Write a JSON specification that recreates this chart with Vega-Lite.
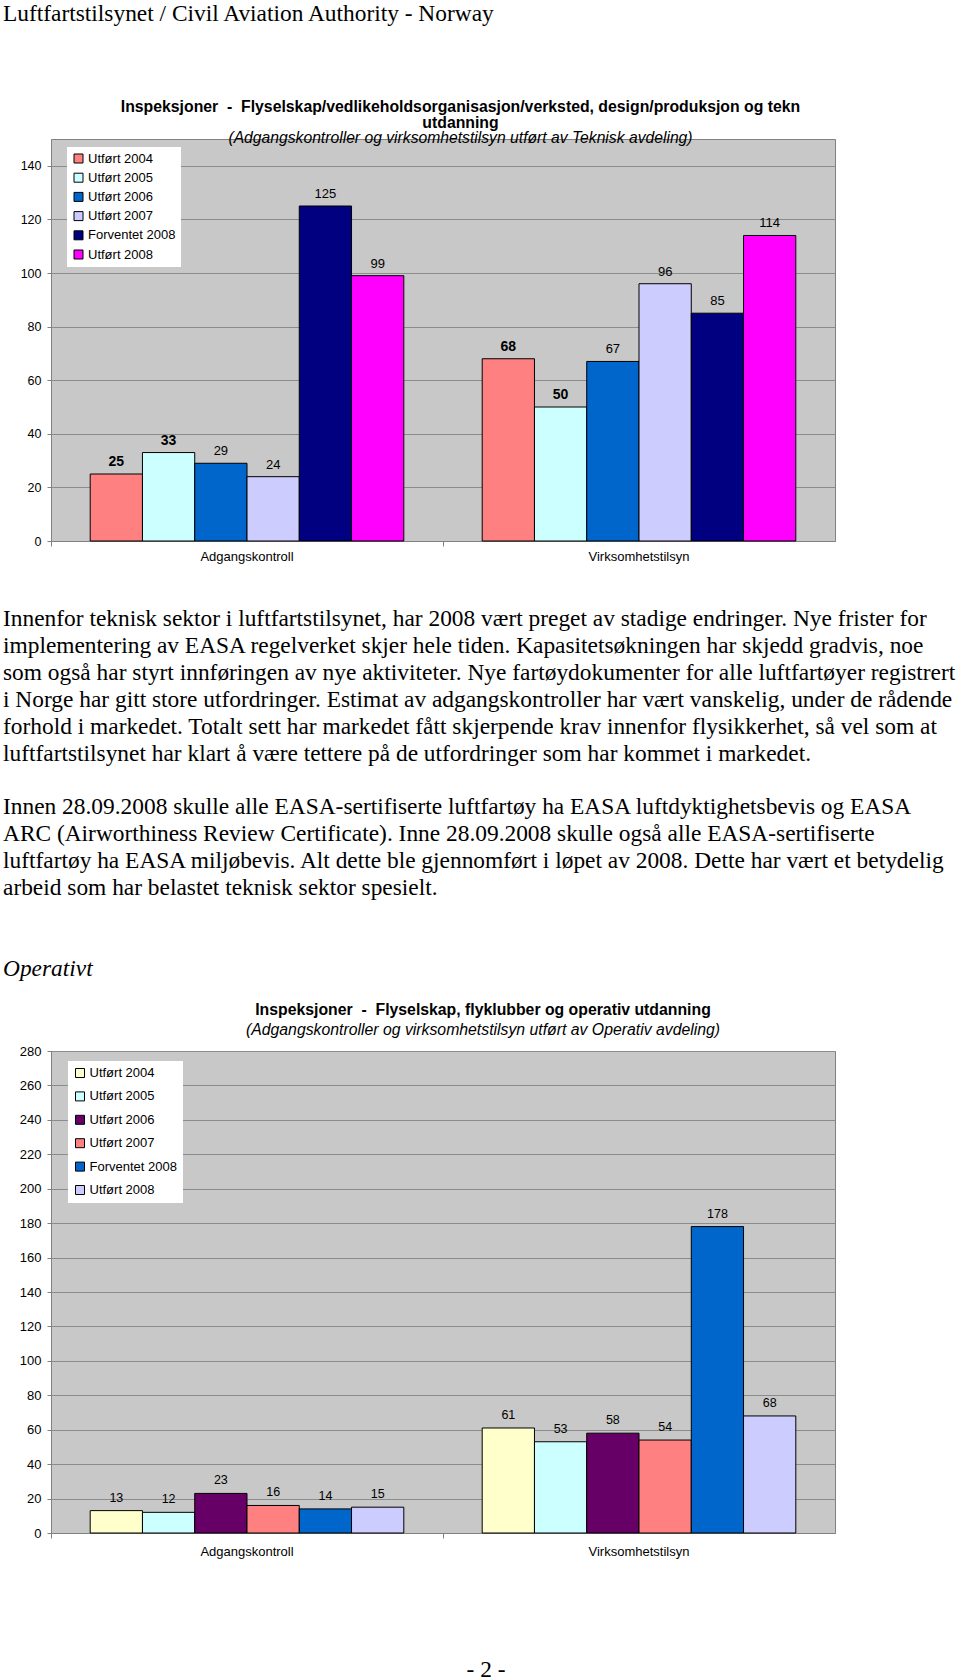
{
  "$schema": "https://vega.github.io/schema/vega-lite/v6.json",
  "background": "white",
  "padding": {"left": 3, "top": 1, "right": 0, "bottom": 0},
  "title": {
    "text": "Luftfartstilsynet / Civil Aviation Authority - Norway",
    "font": "Liberation Serif",
    "fontSize": 23.4,
    "fontWeight": "normal",
    "color": "black",
    "anchor": "start",
    "frame": "bounds",
    "offset": 72
  },
  "spacing": 0,
  "bounds": "flush",
  "resolve": {"scale": {"color": "independent"}, "legend": {"color": "independent"}},
  "config": {
    "view": {"stroke": null},
    "font": "Liberation Sans",
    "axis": {"labelColor": "black", "labelFont": "Liberation Sans"},
    "legend": {
      "orient": "none",
      "title": null,
      "fillColor": "white",
      "labelFont": "Liberation Sans",
      "labelFontSize": 13,
      "labelColor": "black",
      "symbolType": "square",
      "symbolSize": 81,
      "symbolStrokeColor": "black",
      "symbolStrokeWidth": 1,
      "symbolOpacity": 1,
      "labelOffset": 3
    }
  },
  "vconcat": [
    {
      "width": 784,
      "height": 402,
      "view": {"fill": "#c8c8c8", "stroke": "#808080"},
      "title": {
        "text": ["Inspeksjoner \u00a0-\u00a0 Flyselskap/vedlikeholdsorganisasjon/verksted, design/produksjon og tekn", "utdanning"],
        "subtitle": "(Adgangskontroller og virksomhetstilsyn utført av Teknisk avdeling)",
        "font": "Liberation Sans",
        "fontSize": 15.8,
        "fontWeight": "bold",
        "color": "black",
        "lineHeight": 16,
        "subtitleFont": "Liberation Sans",
        "subtitleFontSize": 15.7,
        "subtitleFontStyle": "italic",
        "subtitleColor": "black",
        "subtitlePadding": 0,
        "anchor": "middle",
        "frame": "group",
        "dx": 17.5,
        "offset": -8
      },
      "data": {
        "values": [
          {"category": "Adgangskontroll", "series": "Utført 2004", "value": 25},
          {"category": "Adgangskontroll", "series": "Utført 2005", "value": 33},
          {"category": "Adgangskontroll", "series": "Utført 2006", "value": 29},
          {"category": "Adgangskontroll", "series": "Utført 2007", "value": 24},
          {"category": "Adgangskontroll", "series": "Forventet 2008", "value": 125},
          {"category": "Adgangskontroll", "series": "Utført 2008", "value": 99},
          {"category": "Virksomhetstilsyn", "series": "Utført 2004", "value": 68},
          {"category": "Virksomhetstilsyn", "series": "Utført 2005", "value": 50},
          {"category": "Virksomhetstilsyn", "series": "Utført 2006", "value": 67},
          {"category": "Virksomhetstilsyn", "series": "Utført 2007", "value": 96},
          {"category": "Virksomhetstilsyn", "series": "Forventet 2008", "value": 85},
          {"category": "Virksomhetstilsyn", "series": "Utført 2008", "value": 114}
        ]
      },
      "encoding": {
        "x": {
          "field": "category", "type": "nominal",
          "scale": {"paddingInner": 0, "paddingOuter": 0},
          "axis": {"title": null, "labelAngle": 0, "labelFontSize": 13, "labelPadding": 4, "tickSize": 5, "bandPosition": 0, "domainColor": "#808080", "tickColor": "#808080", "grid": false}
        },
        "xOffset": {
          "field": "series", "type": "nominal",
          "scale": {"domain": ["Utført 2004", "Utført 2005", "Utført 2006", "Utført 2007", "Forventet 2008", "Utført 2008"], "paddingOuter": 0.75, "paddingInner": 0}
        },
        "y": {
          "field": "value", "type": "quantitative",
          "scale": {"domain": [0, 150], "nice": false},
          "axis": {"title": null, "values": [0, 20, 40, 60, 80, 100, 120, 140], "grid": true, "gridColor": "#8c8c8c", "labelFontSize": 12.5, "tickSize": 4, "labelPadding": 6, "domainColor": "#808080", "tickColor": "#808080"}
        }
      },
      "layer": [
        {
          "mark": {"type": "bar", "stroke": "black", "strokeWidth": 1},
          "encoding": {
            "color": {
              "field": "series", "type": "nominal",
              "scale": {
                "domain": ["Utført 2004", "Utført 2005", "Utført 2006", "Utført 2007", "Forventet 2008", "Utført 2008"],
                "range": ["#ff8080", "#ccffff", "#0066cc", "#ccccff", "#000080", "#ff00ff"]
              },
              "legend": {"legendX": 16, "legendY": 8, "padding": 5, "rowPadding": 5.2}
            }
          }
        },
        {
          "transform": [{"filter": "datum.series !== 'Utført 2004' && datum.series !== 'Utført 2005'"}],
          "mark": {"type": "text", "baseline": "bottom", "dy": -5, "fontSize": 13, "color": "black", "font": "Liberation Sans"},
          "encoding": {"text": {"field": "value", "type": "quantitative"}}
        },
        {
          "transform": [{"filter": "datum.series === 'Utført 2004' || datum.series === 'Utført 2005'"}],
          "mark": {"type": "text", "baseline": "bottom", "dy": -5, "fontSize": 14, "fontWeight": "bold", "color": "black", "font": "Liberation Sans"},
          "encoding": {"text": {"field": "value", "type": "quantitative"}}
        }
      ]
    },
    {
      "width": 784,
      "height": 510,
      "encoding": {
        "x": {"datum": 0, "type": "quantitative", "scale": {"domain": [0, 1]}, "axis": null},
        "y": {"field": "line", "type": "quantitative", "scale": {"domain": [-1.9236, 17.0708], "reverse": true, "nice": false, "zero": false}, "axis": null},
        "text": {"field": "text", "type": "nominal"}
      },
      "layer": [
        {
          "data": {
            "values": [
              {"line": 1, "text": "Innenfor teknisk sektor i luftfartstilsynet, har 2008 vært preget av stadige endringer. Nye frister for"},
              {"line": 2, "text": "implementering av EASA regelverket skjer hele tiden. Kapasitetsøkningen har skjedd gradvis, noe"},
              {"line": 3, "text": "som også har styrt innføringen av nye aktiviteter. Nye fartøydokumenter for alle luftfartøyer registrert"},
              {"line": 4, "text": "i Norge har gitt store utfordringer. Estimat av adgangskontroller har vært vanskelig, under de rådende"},
              {"line": 5, "text": "forhold i markedet. Totalt sett har markedet fått skjerpende krav innenfor flysikkerhet, så vel som at"},
              {"line": 6, "text": "luftfartstilsynet har klart å være tettere på de utfordringer som har kommet i markedet."},
              {"line": 8, "text": "Innen 28.09.2008 skulle alle EASA-sertifiserte luftfartøy ha EASA luftdyktighetsbevis og EASA"},
              {"line": 9, "text": "ARC (Airworthiness Review Certificate). Inne 28.09.2008 skulle også alle EASA-sertifiserte"},
              {"line": 10, "text": "luftfartøy ha EASA miljøbevis. Alt dette ble gjennomført i løpet av 2008. Dette har vært et betydelig"},
              {"line": 11, "text": "arbeid som har belastet teknisk sektor spesielt."}
            ]
          },
          "mark": {"type": "text", "font": "Liberation Serif", "fontSize": 23.4, "align": "left", "baseline": "middle", "dx": -48, "color": "black"}
        },
        {
          "data": {"values": [{"line": 14, "text": "Operativt"}]},
          "mark": {"type": "text", "font": "Liberation Serif", "fontSize": 23.4, "fontStyle": "italic", "align": "left", "baseline": "middle", "dx": -48, "color": "black"}
        }
      ]
    },
    {
      "width": 784,
      "height": 482,
      "view": {"fill": "#c8c8c8", "stroke": "#808080"},
      "title": {
        "text": "Inspeksjoner \u00a0-\u00a0 Flyselskap, flyklubber og operativ utdanning",
        "subtitle": "(Adgangskontroller og virksomhetstilsyn utført av Operativ avdeling)",
        "font": "Liberation Sans",
        "fontSize": 15.8,
        "fontWeight": "bold",
        "color": "black",
        "subtitleFont": "Liberation Sans",
        "subtitleFontSize": 15.8,
        "subtitleFontStyle": "italic",
        "subtitleColor": "black",
        "subtitlePadding": 4.5,
        "anchor": "middle",
        "frame": "group",
        "dx": 40,
        "offset": 6
      },
      "data": {
        "values": [
          {"category": "Adgangskontroll", "series": "Utført 2004", "value": 13},
          {"category": "Adgangskontroll", "series": "Utført 2005", "value": 12},
          {"category": "Adgangskontroll", "series": "Utført 2006", "value": 23},
          {"category": "Adgangskontroll", "series": "Utført 2007", "value": 16},
          {"category": "Adgangskontroll", "series": "Forventet 2008", "value": 14},
          {"category": "Adgangskontroll", "series": "Utført 2008", "value": 15},
          {"category": "Virksomhetstilsyn", "series": "Utført 2004", "value": 61},
          {"category": "Virksomhetstilsyn", "series": "Utført 2005", "value": 53},
          {"category": "Virksomhetstilsyn", "series": "Utført 2006", "value": 58},
          {"category": "Virksomhetstilsyn", "series": "Utført 2007", "value": 54},
          {"category": "Virksomhetstilsyn", "series": "Forventet 2008", "value": 178},
          {"category": "Virksomhetstilsyn", "series": "Utført 2008", "value": 68}
        ]
      },
      "encoding": {
        "x": {
          "field": "category", "type": "nominal",
          "scale": {"paddingInner": 0, "paddingOuter": 0},
          "axis": {"title": null, "labelAngle": 0, "labelFontSize": 13, "labelPadding": 7.5, "tickSize": 5, "bandPosition": 0, "domainColor": "#808080", "tickColor": "#808080", "grid": false}
        },
        "xOffset": {
          "field": "series", "type": "nominal",
          "scale": {"domain": ["Utført 2004", "Utført 2005", "Utført 2006", "Utført 2007", "Forventet 2008", "Utført 2008"], "paddingOuter": 0.75, "paddingInner": 0}
        },
        "y": {
          "field": "value", "type": "quantitative",
          "scale": {"domain": [0, 280], "nice": false},
          "axis": {"title": null, "values": [0, 20, 40, 60, 80, 100, 120, 140, 160, 180, 200, 220, 240, 260, 280], "grid": true, "gridColor": "#8c8c8c", "labelFontSize": 13, "tickSize": 4, "labelPadding": 6, "domainColor": "#808080", "tickColor": "#808080"}
        }
      },
      "layer": [
        {
          "mark": {"type": "bar", "stroke": "black", "strokeWidth": 1},
          "encoding": {
            "color": {
              "field": "series", "type": "nominal",
              "scale": {
                "domain": ["Utført 2004", "Utført 2005", "Utført 2006", "Utført 2007", "Forventet 2008", "Utført 2008"],
                "range": ["#ffffcc", "#ccffff", "#660066", "#ff8080", "#0066cc", "#ccccff"]
              },
              "legend": {"legendX": 17, "legendY": 10, "padding": 5.5, "rowPadding": 9.4}
            }
          }
        },
        {
          "mark": {"type": "text", "baseline": "bottom", "dy": -6, "fontSize": 12.5, "color": "black", "font": "Liberation Sans"},
          "encoding": {"text": {"field": "value", "type": "quantitative"}}
        }
      ]
    },
    {
      "width": 870,
      "height": 137,
      "data": {"values": [{"line": 1, "text": "- 2 -"}]},
      "mark": {"type": "text", "font": "Liberation Serif", "fontSize": 23.4, "align": "center", "baseline": "middle", "color": "black"},
      "encoding": {
        "y": {"field": "line", "type": "quantitative", "scale": {"domain": [0, 1], "reverse": true, "nice": false, "zero": false}, "axis": null},
        "text": {"field": "text", "type": "nominal"}
      }
    }
  ]
}
